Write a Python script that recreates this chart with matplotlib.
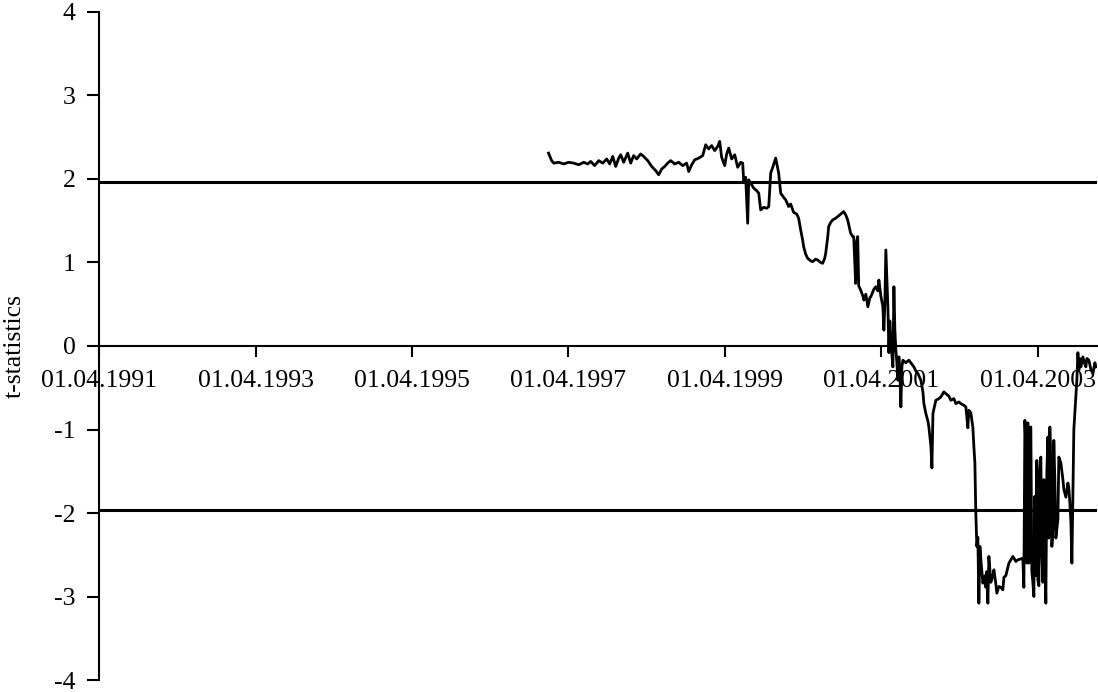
from datetime import datetime, timedelta
from matplotlib import pyplot as plt
from matplotlib import dates as mpldates

# rolling t-statistic (decimal year, value)
years = [1996.994, 1997.032, 1997.058, 1997.122, 1997.186, 1997.250, 1997.314, 1997.378, 1997.442, 1997.493,
         1997.531, 1997.582, 1997.634, 1997.685, 1997.736, 1997.774, 1997.813, 1997.851, 1997.890, 1997.915,
         1997.953, 1998.005, 1998.043, 1998.081, 1998.120, 1998.171, 1998.209, 1998.261, 1998.312, 1998.363,
         1998.401, 1998.440, 1998.478, 1998.516, 1998.555, 1998.606, 1998.657, 1998.708, 1998.759, 1998.785,
         1998.823, 1998.862, 1998.913, 1998.964, 1999.003, 1999.041, 1999.079, 1999.118, 1999.156, 1999.182,
         1999.207, 1999.246, 1999.271, 1999.297, 1999.335, 1999.374, 1999.412, 1999.450, 1999.476, 1999.489,
         1999.514, 1999.540, 1999.553, 1999.591, 1999.617, 1999.655, 1999.681, 1999.706, 1999.744, 1999.783,
         1999.809, 1999.834, 1999.860, 1999.898, 1999.924, 1999.936, 1999.962, 2000.000, 2000.026, 2000.064,
         2000.090, 2000.128, 2000.167, 2000.192, 2000.218, 2000.243, 2000.256, 2000.282, 2000.307, 2000.346,
         2000.371, 2000.410, 2000.435, 2000.474, 2000.499, 2000.525, 2000.538, 2000.563, 2000.576, 2000.602,
         2000.627, 2000.666, 2000.691, 2000.730, 2000.768, 2000.794, 2000.819, 2000.845, 2000.857, 2000.883,
         2000.896, 2000.921, 2000.934, 2000.947, 2000.960, 2000.985, 2001.011, 2001.024, 2001.049, 2001.075,
         2001.101, 2001.113, 2001.152, 2001.177, 2001.203, 2001.216, 2001.241, 2001.267, 2001.280, 2001.292,
         2001.305, 2001.318, 2001.331, 2001.344, 2001.356, 2001.369, 2001.382, 2001.395, 2001.408, 2001.420,
         2001.433, 2001.446, 2001.459, 2001.472, 2001.484, 2001.497, 2001.510, 2001.523, 2001.561, 2001.599,
         2001.638, 2001.663, 2001.689, 2001.715, 2001.753, 2001.779, 2001.791, 2001.817, 2001.843, 2001.855,
         2001.881, 2001.894, 2001.907, 2001.932, 2001.945, 2001.983, 2002.009, 2002.047, 2002.073, 2002.111,
         2002.137, 2002.175, 2002.201, 2002.239, 2002.265, 2002.303, 2002.329, 2002.354, 2002.367, 2002.392,
         2002.418, 2002.431, 2002.444, 2002.456, 2002.469, 2002.482, 2002.495, 2002.508, 2002.521, 2002.546,
         2002.572, 2002.584, 2002.597, 2002.610, 2002.623, 2002.648, 2002.674, 2002.687, 2002.712, 2002.725,
         2002.751, 2002.776, 2002.802, 2002.815, 2002.840, 2002.879, 2002.904, 2002.930, 2002.968, 2002.994,
         2003.032, 2003.058, 2003.071, 2003.084, 2003.096, 2003.109, 2003.122, 2003.135, 2003.148, 2003.160,
         2003.173, 2003.186, 2003.199, 2003.211, 2003.224, 2003.237, 2003.250, 2003.263, 2003.275, 2003.288,
         2003.301, 2003.314, 2003.327, 2003.339, 2003.352, 2003.365, 2003.378, 2003.391, 2003.403, 2003.416,
         2003.429, 2003.442, 2003.454, 2003.467, 2003.480, 2003.506, 2003.518, 2003.544, 2003.570, 2003.583,
         2003.608, 2003.634, 2003.646, 2003.659, 2003.672, 2003.685, 2003.698, 2003.710, 2003.723, 2003.736,
         2003.749, 2003.762, 2003.774, 2003.787, 2003.800, 2003.825, 2003.851, 2003.864, 2003.877, 2003.902,
         2003.928, 2003.954, 2003.979, 2003.992]
tstat = [2.31, 2.22, 2.19, 2.20, 2.18, 2.20, 2.19, 2.17, 2.20, 2.18,
         2.21, 2.16, 2.22, 2.19, 2.24, 2.18, 2.27, 2.15, 2.25, 2.29,
         2.20, 2.31, 2.19, 2.28, 2.24, 2.30, 2.27, 2.22, 2.15, 2.10,
         2.05, 2.12, 2.15, 2.19, 2.22, 2.18, 2.20, 2.16, 2.19, 2.09,
         2.17, 2.23, 2.25, 2.28, 2.41, 2.36, 2.40, 2.34, 2.39, 2.45,
         2.26, 2.16, 2.30, 2.37, 2.24, 2.29, 2.14, 2.20, 2.19, 1.97,
         2.02, 1.47, 1.99, 1.93, 1.89, 1.86, 1.83, 1.63, 1.66, 1.65,
         1.67, 2.07, 2.14, 2.25, 2.13, 2.07, 1.83, 1.78, 1.75, 1.67,
         1.70, 1.60, 1.58, 1.53, 1.39, 1.27, 1.19, 1.10, 1.05, 1.02,
         1.01, 1.04, 1.03, 1.00, 0.99, 1.05, 1.11, 1.30, 1.43, 1.48,
         1.51, 1.53, 1.55, 1.58, 1.61, 1.57, 1.51, 1.40, 1.35, 1.31,
         1.31, 0.75, 1.25, 1.31, 0.72, 0.67, 0.60, 0.55, 0.62, 0.47,
         0.58, 0.59, 0.68, 0.71, 0.66, 0.79, 0.60, 0.47, 0.19, 0.50,
         1.15, 0.80, 0.47, -0.08, 0.30, 0.07, -0.10, -0.25, 0.71, 0.20,
         -0.05, -0.20, -0.41, -0.13, -0.30, -0.73, -0.25, -0.17, -0.20, -0.17,
         -0.22, -0.25, -0.30, -0.33, -0.41, -0.55, -0.69, -0.81, -0.90, -0.97,
         -1.20, -1.46, -0.81, -0.70, -0.65, -0.63, -0.61, -0.55, -0.57, -0.60,
         -0.65, -0.63, -0.69, -0.67, -0.69, -0.71, -0.73, -0.98, -0.77, -0.80,
         -0.97, -1.20, -1.40, -2.00, -2.40, -2.29, -3.08, -2.40, -2.56, -2.84,
         -2.75, -2.89, -2.70, -3.08, -2.52, -2.83, -2.75, -2.68, -2.85, -2.96,
         -2.88, -2.89, -2.92, -2.77, -2.75, -2.60, -2.56, -2.52, -2.58, -2.56,
         -2.55, -2.54, -2.89, -0.89, -1.20, -2.60, -0.92, -2.60, -1.00, -0.97,
         -2.70, -2.83, -3.00, -1.80, -2.75, -1.37, -2.80, -2.87, -1.50, -1.33,
         -2.50, -2.83, -1.60, -2.40, -3.08, -1.50, -1.09, -2.30, -0.97, -1.40,
         -2.40, -2.20, -1.13, -1.60, -2.30, -2.08, -1.33, -1.40, -1.60, -1.72,
         -1.81, -1.64, -1.70, -1.88, -2.10, -2.60, -1.80, -1.00, -0.80, -0.61,
         -0.40, -0.08, -0.29, -0.15, -0.25, -0.13, -0.22, -0.25, -0.15, -0.17,
         -0.28, -0.33, -0.20, -0.25]

crit = 1.96
tick_years = [1991, 1993, 1995, 1997, 1999, 2001, 2003]
yticks = [-4, -3, -2, -1, 0, 1, 2, 3, 4]


def yearfrac_to_date(y):
    yr = int(y)
    return datetime(yr, 1, 1) + timedelta(days=(y - yr) * 365.25)


dates = [yearfrac_to_date(y) for y in years]

plt.rcParams['font.family'] = ['Liberation Serif', 'DejaVu Serif']
plt.rcParams['axes.unicode_minus'] = False

fig = plt.figure(figsize=(10.98, 6.92), dpi=100)
ax = fig.add_axes([0.0902, 0.0173, 0.9088, 0.9654])

ax.axhline(crit, color='black', linewidth=2.2)
ax.axhline(-crit, color='black', linewidth=2.2)
ax.plot(dates, tstat, color='black', linewidth=2.0)

ax.set_xlim(datetime(1991, 4, 1), datetime(2004, 1, 3))
ax.set_ylim(-4, 4)

ax.spines['top'].set_visible(False)
ax.spines['right'].set_visible(False)
ax.spines['bottom'].set_position(('data', 0))
ax.spines['left'].set_linewidth(1.5)
ax.spines['bottom'].set_linewidth(1.5)

ax.set_xticks([datetime(y, 4, 1) for y in tick_years])
ax.xaxis.set_major_formatter(mpldates.DateFormatter('%d.%m.%Y'))
ax.set_yticks(yticks)
ax.tick_params(axis='x', direction='out', length=8, width=1.5, pad=9, labelsize=18.5)
ax.tick_params(axis='y', direction='out', length=9, width=1.5, pad=8, labelsize=18.5)
ax.set_ylabel('t-statistics', fontsize=18.5, labelpad=20)

fig.savefig('out.png', dpi=100)
